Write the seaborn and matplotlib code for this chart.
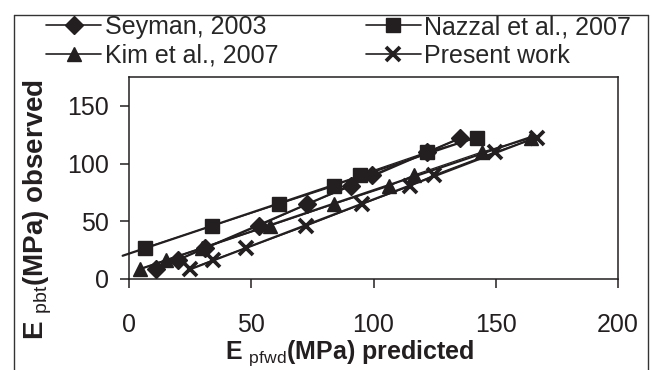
import numpy as np
import pandas as pd
import matplotlib
matplotlib.use("Agg")
import matplotlib.pyplot as plt
import seaborn as sns
from matplotlib.lines import Line2D

# ---- data ----
y_obs = [8.5, 16.5, 27, 46, 65, 80.5, 90, 110, 122]
seyman_x = [11, 20, 31, 53, 73, 91, 99.5, 122, 135.5]
kim_x = [4.5, 15, 30, 57.6, 84, 106.4, 116.5, 144.3, 164.6]
present_x = [25, 34.5, 48, 72.5, 95.5, 115, 124.7, 149.7, 166.7]
nazzal_x = [6.6, 34, 61.4, 84, 94.4, 122, 142.3]
nazzal_y = y_obs[2:]

labels = ["Seyman, 2003", "Nazzal et al., 2007", "Kim et al., 2007", "Present work"]
x_ticks = [0, 50, 100, 150, 200]
y_ticks = [0, 50, 100, 150]

sns.set_theme(style="white")
plt.rcParams["font.family"] = ["Liberation Sans", "DejaVu Sans"]
plt.rcParams["mathtext.fontset"] = "custom"
plt.rcParams["mathtext.rm"] = "Liberation Sans"
plt.rcParams["mathtext.it"] = "Liberation Sans"
plt.rcParams["mathtext.bf"] = "Liberation Sans:bold"

INK = "#231f20"
fig = plt.figure(figsize=(6.52, 3.70), dpi=100)
ax = fig.add_axes([129/652, 1-279/370, (618-129)/652, (279-77)/370])

series = [
    (seyman_x, y_obs, "D", 9.5, labels[0], None),
    (nazzal_x, nazzal_y, "s", 9.5, labels[1], -2.6),
    (kim_x, y_obs, "^", 10, labels[2], None),
    (present_x, y_obs, "x", 10.5, labels[3], None),
]

handles = {}
for xs, ys, mk, ms, lab, xstart in series:
    df = pd.DataFrame({"x": xs, "y": ys})
    # linear trend line
    k, b = np.polyfit(xs, ys, 1)
    x0 = min(xs) if xstart is None else xstart
    tx = np.array([x0, max(xs)])
    tdf = pd.DataFrame({"x": tx, "y": k * tx + b})
    sns.lineplot(data=tdf, x="x", y="y", ax=ax, color=INK, lw=1.6,
                 sort=False, estimator=None, legend=False)
    ax.lines[-1].set_clip_on(False)
    # data points with thin connectors
    mew = 2.7 if mk == "x" else 1.0
    sns.lineplot(data=df, x="x", y="y", ax=ax, marker=mk, markersize=ms,
                 color=INK, lw=0.9, sort=False, estimator=None, legend=False,
                 markeredgewidth=mew, markeredgecolor=INK, markerfacecolor=INK)
    handles[lab] = Line2D([0], [0], color=INK, lw=1.2, marker=mk,
                          markersize=ms, markeredgewidth=mew,
                          markerfacecolor=INK, markeredgecolor=INK, label=lab)

ax.set_xlim(0, 200)
ax.set_ylim(0, 175)
ax.set_xticks(x_ticks)
ax.set_yticks(y_ticks)
for s in ax.spines.values():
    s.set_color(INK)
    s.set_linewidth(1.1)
    s.set_visible(True)
ax.tick_params(axis="both", direction="out", length=6.5, width=1.1,
               color=INK, labelsize=18, labelcolor=INK, left=True, bottom=True)
ax.tick_params(axis="x", pad=18)
ax.tick_params(axis="y", pad=8)

ax.set_xlabel(r"E $_{\mathrm{pfwd}}$(MPa) predicted", fontsize=18,
              fontweight="bold", color=INK)
ax.xaxis.set_label_coords(0.452, -0.295)
ax.set_ylabel(r"E $_{\mathrm{pbt}}$(MPa) observed", fontsize=20,
              fontweight="bold", color=INK)
ax.yaxis.set_label_coords(-0.153, 0.345)

order = [labels[0], labels[2], labels[1], labels[3]]  # column-major fill
fig.legend(handles=[handles[l] for l in order], ncol=2, loc="upper left",
           bbox_to_anchor=(46/652, 1 - 15/370), frameon=False,
           fontsize=18, handlelength=2.2, handletextpad=0.15,
           columnspacing=3.5, labelspacing=0.2, borderpad=0,
           borderaxespad=0)

# outer frame (top, left, right)
fx0, fx1, fy1 = 14/652, 648/652, 1 - 15/370
for xs_, ys_ in [([fx0, fx1], [fy1, fy1]), ([fx0, fx0], [fy1, -0.05]),
                 ([fx1, fx1], [fy1, -0.05])]:
    fig.add_artist(Line2D(xs_, ys_, transform=fig.transFigure,
                          color="#333333", lw=1.0))

fig.savefig("out.png", dpi=100)
